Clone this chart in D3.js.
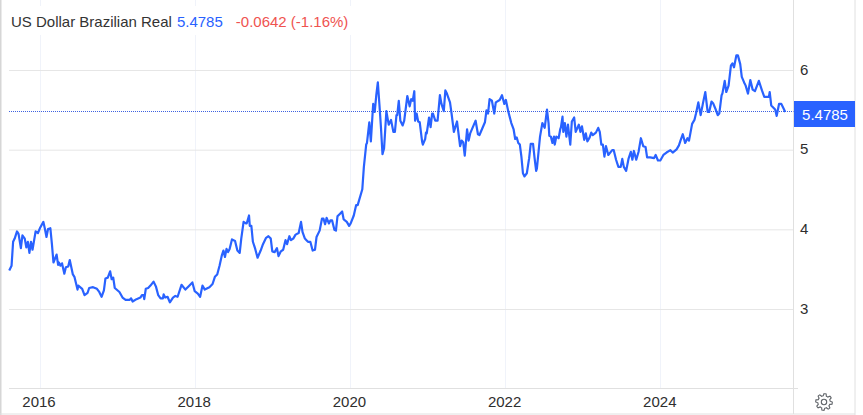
<!DOCTYPE html>
<html><head><meta charset="utf-8">
<script src="https://cdn.jsdelivr.net/npm/d3@7"></script>
<style>html,body{margin:0;padding:0;background:#fff;overflow:hidden}svg{display:block;font-family:"Liberation Sans",Arial,sans-serif}</style>
</head><body><svg id="c" width="863" height="415"></svg>
<script>
const title = "US Dollar Brazilian Real";
const lastValue = 5.4785;
const changeText = "-0.0642 (-1.16%)";
const xTickYears = [2016, 2018, 2020, 2022, 2024];
const yTickValues = [3, 4, 5, 6];
const dates = [
2015.61,2015.64,2015.66,2015.68,2015.71,2015.73,2015.76,2015.78,2015.81,2015.83,2015.85,2015.87,2015.89,2015.91,2015.95,2015.98,
2016.01,2016.05,2016.07,2016.09,2016.11,2016.14,2016.16,2016.18,2016.22,2016.24,2016.25,2016.27,2016.29,2016.32,2016.34,2016.37,2016.39,2016.43,2016.45,2016.49,2016.50,2016.55,2016.58,2016.62,2016.64,2016.69,2016.74,2016.77,2016.80,2016.83,2016.85,2016.88,2016.91,2016.93,2016.95,2016.97,
2017.03,2017.07,2017.11,2017.16,2017.18,2017.20,2017.25,2017.30,2017.32,2017.34,2017.35,2017.37,2017.40,2017.43,2017.47,2017.50,2017.53,2017.56,2017.59,2017.60,2017.62,2017.65,2017.68,2017.72,2017.75,2017.78,2017.83,2017.88,2017.92,2017.97,
2018.00,2018.04,2018.07,2018.10,2018.13,2018.19,2018.23,2018.26,2018.29,2018.32,2018.35,2018.37,2018.39,2018.41,2018.43,2018.45,2018.48,2018.52,2018.55,2018.58,2018.60,2018.63,2018.66,2018.67,2018.70,2018.71,2018.73,2018.75,2018.78,2018.81,2018.85,2018.88,2018.92,2018.95,2018.98,
2019.00,2019.03,2019.06,2019.08,2019.11,2019.14,2019.17,2019.19,2019.22,2019.24,2019.27,2019.30,2019.34,2019.37,2019.39,2019.42,2019.44,2019.46,2019.49,2019.52,2019.55,2019.57,2019.61,2019.64,2019.66,2019.68,2019.70,2019.73,2019.75,2019.77,2019.80,2019.82,2019.84,2019.87,2019.90,2019.92,2019.96,2019.99,
2020.01,2020.05,2020.08,2020.10,2020.16,2020.18,2020.21,2020.22,2020.25,2020.27,2020.30,2020.32,2020.34,2020.36,2020.38,2020.40,2020.42,2020.44,2020.47,2020.50,2020.53,2020.56,2020.58,2020.60,2020.61,2020.63,2020.65,2020.68,2020.70,2020.74,2020.77,2020.79,2020.81,2020.83,2020.84,2020.86,2020.88,2020.90,2020.93,2020.94,2020.97,2020.98,2020.99,
2021.02,2021.04,2021.06,2021.07,2021.10,2021.13,2021.16,2021.18,2021.21,2021.23,2021.25,2021.29,2021.31,2021.34,2021.38,2021.42,2021.44,2021.46,2021.48,2021.51,2021.53,2021.55,2021.62,2021.65,2021.67,2021.74,2021.76,2021.78,2021.80,2021.83,2021.86,2021.88,2021.93,2021.96,2021.99,
2022.01,2022.04,2022.08,2022.11,2022.13,2022.15,2022.17,2022.19,2022.21,2022.23,2022.25,2022.28,2022.31,2022.33,2022.36,2022.38,2022.40,2022.41,2022.45,2022.48,2022.51,2022.54,2022.56,2022.57,2022.59,2022.61,2022.63,2022.64,2022.66,2022.69,2022.71,2022.72,2022.74,2022.75,2022.77,2022.79,2022.81,2022.84,2022.86,2022.89,2022.91,2022.95,2022.97,2022.99,
2023.02,2023.04,2023.06,2023.09,2023.11,2023.13,2023.17,2023.20,2023.22,2023.24,2023.26,2023.28,2023.30,2023.33,2023.38,2023.40,2023.43,2023.46,2023.49,2023.51,2023.53,2023.56,2023.59,2023.62,2023.64,2023.66,2023.69,2023.72,2023.75,2023.78,2023.81,2023.83,2023.87,2023.92,2023.94,2023.97,
2024.00,2024.04,2024.08,2024.13,2024.16,2024.21,2024.24,2024.26,2024.29,2024.32,2024.35,2024.37,2024.41,2024.44,2024.46,2024.49,2024.52,2024.55,2024.58,2024.61,2024.63,2024.66,2024.68,2024.71,2024.74,2024.76,2024.79,2024.80,2024.83,2024.85,2024.88,2024.91,2024.93,2024.95,2024.98,
2025.00,2025.03,2025.05,2025.08,2025.10,2025.13,2025.16,2025.19,2025.22,2025.27,2025.31,2025.34,2025.40,2025.41,2025.43,2025.48,2025.50,2025.53,2025.56,2025.59,2025.61];
const rates = [
3.49,3.55,3.85,3.89,3.98,3.95,3.77,3.93,3.89,3.78,3.85,3.71,3.85,3.75,3.98,3.96,
4.03,4.10,4.01,3.91,4.01,4.02,3.82,3.59,3.69,3.56,3.59,3.55,3.58,3.45,3.53,3.54,3.62,3.44,3.41,3.25,3.30,3.26,3.18,3.21,3.27,3.28,3.26,3.22,3.16,3.24,3.39,3.40,3.48,3.38,3.40,3.27,
3.22,3.15,3.12,3.12,3.14,3.10,3.13,3.15,3.18,3.18,3.13,3.26,3.27,3.30,3.35,3.29,3.18,3.14,3.14,3.19,3.15,3.16,3.09,3.15,3.17,3.16,3.31,3.25,3.29,3.34,
3.23,3.20,3.16,3.30,3.25,3.28,3.32,3.41,3.44,3.55,3.68,3.74,3.66,3.76,3.72,3.76,3.88,3.86,3.74,3.71,3.89,4.10,4.08,4.08,4.18,4.05,4.05,3.85,3.76,3.65,3.74,3.82,3.90,3.92,3.89,
3.73,3.72,3.77,3.67,3.73,3.75,3.87,3.82,3.92,3.87,3.89,3.94,3.96,4.10,3.97,3.89,3.87,3.85,3.85,3.74,3.75,3.91,3.99,4.14,4.14,4.07,4.15,4.08,4.12,4.12,4.00,3.99,4.17,4.20,4.23,4.13,4.10,4.05,
4.08,4.18,4.31,4.31,4.51,4.79,5.07,5.09,5.35,5.11,5.58,5.48,5.69,5.85,5.58,5.29,4.95,5.02,5.49,5.32,5.38,5.23,5.23,5.44,5.44,5.62,5.37,5.31,5.37,5.68,5.55,5.64,5.62,5.74,5.37,5.46,5.36,5.35,5.11,5.07,5.14,5.22,5.21,
5.41,5.29,5.46,5.46,5.37,5.37,5.69,5.58,5.49,5.75,5.71,5.60,5.46,5.23,5.36,5.05,5.12,5.10,4.93,5.26,5.12,5.21,5.37,5.20,5.19,5.35,5.50,5.46,5.64,5.62,5.46,5.60,5.63,5.69,5.58,
5.63,5.49,5.34,5.26,5.14,5.16,5.09,5.07,4.92,4.71,4.67,4.71,4.90,5.08,5.08,4.90,4.74,4.77,5.17,5.34,5.28,5.51,5.34,5.18,5.17,5.09,5.17,5.07,5.17,5.15,5.26,5.29,5.42,5.23,5.34,5.17,5.32,5.07,5.36,5.41,5.23,5.32,5.23,5.30,
5.13,5.21,5.11,5.16,5.22,5.19,5.22,5.28,5.23,5.07,5.07,4.92,5.05,4.94,5.00,5.00,4.88,4.79,4.79,4.89,4.79,4.74,4.89,4.98,4.88,4.99,4.88,4.98,5.15,5.05,5.04,4.91,4.91,4.90,4.94,4.87,
4.87,4.94,4.97,5.00,4.97,5.01,5.06,5.12,5.20,5.09,5.15,5.12,5.33,5.38,5.46,5.60,5.44,5.59,5.73,5.48,5.48,5.61,5.59,5.52,5.44,5.46,5.69,5.71,5.87,5.73,5.81,6.06,6.09,6.04,6.19,
6.19,6.08,5.92,5.85,5.81,5.71,5.88,5.76,5.74,5.87,5.75,5.67,5.67,5.73,5.56,5.51,5.43,5.58,5.58,5.52,5.48];

const svg = d3.select("#c");
const L = 9, R = 793.5, B = 388.5;
const x = d3.scaleLinear().domain([2016, 2024]).range([39.5, 660.3]);
const y = d3.scaleLinear().domain([3, 6]).range([309.5, 70.5]);

// frame
const gridH = "#e6e6e6", gridV = "#f0f3fa", frame = "#e0e0e0";
svg.append("g").selectAll("line").data(xTickYears).join("line")
  .attr("x1", d => Math.round(x(d)) + .5).attr("x2", d => Math.round(x(d)) + .5)
  .attr("y1", 0).attr("y2", B).attr("stroke", gridV);
svg.append("g").selectAll("line").data(yTickValues).join("line")
  .attr("x1", L).attr("x2", R).attr("y1", d => y(d)).attr("y2", d => y(d)).attr("stroke", gridH);
[[L,B,798,B],[R,0,R,414],[.5,0,.5,415],[855,0,855,415],[0,414,855,414]].forEach(s =>
  svg.append("line").attr("x1",s[0]).attr("y1",s[1]).attr("x2",s[2]).attr("y2",s[3])
     .attr("stroke", s[0]===.5 ? "#d6d6d6" : frame).attr("stroke-width", s[0]===.5 ? 2 : 1));

// last value dotted line
const lastY = Math.floor(y(lastValue)) - .5;
svg.append("line").attr("x1", L).attr("x2", R).attr("y1", lastY).attr("y2", lastY)
  .attr("stroke", "#3f62e0").attr("stroke-dasharray", "1 1");

// series
const line = d3.line().x((d, i) => x(dates[i])).y(d => y(d)).curve(d3.curveLinear);
svg.append("path").datum(rates).attr("d", line).attr("fill", "none")
  .attr("stroke", "#2962ff").attr("stroke-width", 2.2).attr("stroke-linejoin", "round");

// axes labels
svg.append("g").selectAll("text").data(xTickYears).join("text")
  .attr("x", d => x(d) - .5).attr("y", 407).attr("text-anchor", "middle")
  .attr("font-size", 15).attr("fill", "#2e2e2e").text(d => d);
svg.append("g").selectAll("text").data(yTickValues).join("text")
  .attr("x", 800).attr("y", d => y(d) + 4)
  .attr("font-size", 15).attr("fill", "#2e2e2e").text(d => d);

// last value badge
svg.append("rect").attr("x", 794).attr("y", 101).attr("width", 61).attr("height", 26).attr("fill", "#2962ff");
svg.append("text").attr("x", 825).attr("y", 119.5).attr("text-anchor", "middle")
  .attr("font-size", 15).attr("fill", "#fff").text(lastValue.toFixed(4));

// header
svg.append("rect").attr("x", 6).attr("y", 6).attr("width", 345).attr("height", 29).attr("fill", "#fff");
const head = svg.append("text").attr("x", 11).attr("y", 27).attr("font-size", 15);
head.append("tspan").attr("fill", "#333").text(title);
head.append("tspan").attr("fill", "#2962ff").attr("dx", 5).text(lastValue.toFixed(4));
head.append("tspan").attr("fill", "#ef5350").attr("dx", 13).text(changeText);

// settings gear
const teeth = d3.range(48).map(i => {
  const k = i % 6;
  return [i / 48 * 2 * Math.PI, k < 3 ? 8.3 : 6.2];
});
const gear = svg.append("g").attr("transform", "translate(824,402)")
  .attr("fill", "none").attr("stroke", "#5f6368").attr("stroke-width", 1.1);
gear.append("path").attr("d", d3.lineRadial().curve(d3.curveLinearClosed)(teeth));
gear.append("circle").attr("r", 2.7);
</script></body></html>
